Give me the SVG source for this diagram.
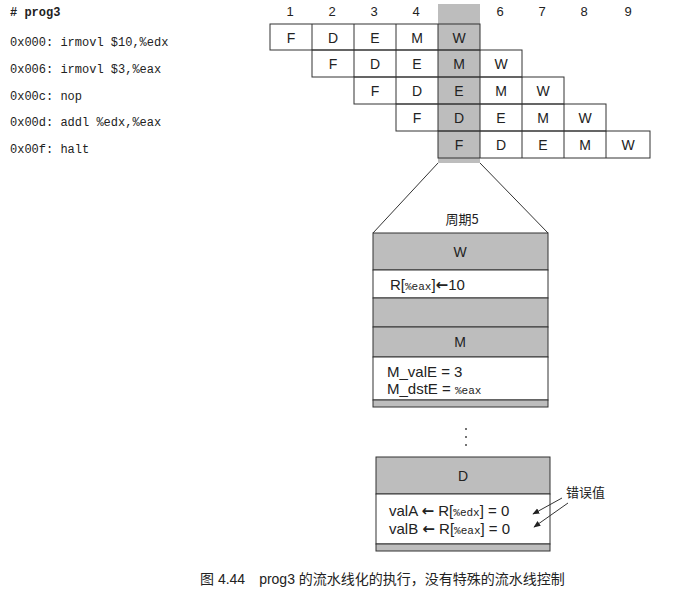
<svg xmlns="http://www.w3.org/2000/svg" width="679" height="605" viewBox="0 0 679 605">
<style>
.code{font-family:"Liberation Mono",monospace;font-size:12px;fill:#222}
.s{font-family:"Liberation Sans",Arial,sans-serif;fill:#222}
.c{stroke:#333;stroke-width:1;fill:#fff}
.g{stroke:#333;stroke-width:1;fill:#bdbdbd}
.l{font-family:"Liberation Sans",Arial,sans-serif;font-size:14px;fill:#222;text-anchor:middle}
.ar{font-family:"DejaVu Sans",sans-serif;font-size:15px;font-weight:bold}
</style>
<defs><marker id="a" viewBox="0 0 10 10" refX="9" refY="5" markerWidth="7" markerHeight="7" orient="auto"><path d="M0,1L10,5L0,9z" fill="#222"/></marker></defs>
<rect width="679" height="605" fill="#fff"/>
<g id="code">
<text class="code" x="10" y="16" font-weight="bold"># prog3</text>
<text class="code" x="10" y="46">0x000: irmovl $10,%edx</text>
<text class="code" x="10" y="73">0x006: irmovl  $3,%eax</text>
<text class="code" x="10" y="100">0x00c: nop</text>
<text class="code" x="10" y="126">0x00d: addl %edx,%eax</text>
<text class="code" x="10" y="153">0x00f: halt</text>
</g>
<g id="cols" class="s" font-size="13" text-anchor="middle">
<text x="290" y="16">1</text><text x="332" y="16">2</text><text x="374" y="16">3</text><text x="416" y="16">4</text><text x="459" y="16">5</text><text x="500" y="16">6</text><text x="542" y="16">7</text><text x="584" y="16">8</text><text x="628" y="16">9</text>
</g>
<g id="grid">
<rect x="438" y="4" width="42" height="159" fill="#bdbdbd"/>
<g fill="none" stroke="#333">
<rect x="270" y="24" width="210" height="26"/><path d="M312 24V50M354 24V50M396 24V50M438 24V50"/>
<rect x="312" y="50" width="210" height="27"/><path d="M354 50V77M396 50V77M438 50V77M480 50V77"/>
<rect x="354" y="77" width="210" height="27"/><path d="M396 77V104M438 77V104M480 77V104M522 77V104"/>
<rect x="396" y="104" width="210" height="27"/><path d="M438 104V131M480 104V131M522 104V131M564 104V131"/>
<rect x="438" y="131" width="212" height="27"/><path d="M480 131V158M522 131V158M564 131V158M606 131V158"/>
</g>
<g class="l">
<text x="291" y="43">F</text><text x="333" y="43">D</text><text x="375" y="43">E</text><text x="417" y="43">M</text><text x="459" y="43">W</text>
<text x="333" y="69">F</text><text x="375" y="69">D</text><text x="417" y="69">E</text><text x="459" y="69">M</text><text x="501" y="69">W</text>
<text x="375" y="96">F</text><text x="417" y="96">D</text><text x="459" y="96">E</text><text x="501" y="96">M</text><text x="543" y="96">W</text>
<text x="417" y="123">F</text><text x="459" y="123">D</text><text x="501" y="123">E</text><text x="543" y="123">M</text><text x="585" y="123">W</text>
<text x="459" y="150">F</text><text x="501" y="150">D</text><text x="543" y="150">E</text><text x="585" y="150">M</text><text x="628" y="150">W</text>
</g>
</g>
<g id="cycle5">
<text x="462" y="224" font-size="13" text-anchor="middle" font-family="Noto Sans CJK SC,sans-serif" fill="#222">周期5</text>
<rect class="g" x="373" y="233" width="175" height="37"/>
<text class="l" x="460" y="257">W</text>
<rect class="c" x="373" y="270" width="175" height="28"/>
<text class="s" x="390" y="290" font-size="15">R[<tspan font-family="Liberation Mono" font-size="11">%eax</tspan>]<tspan class="ar">←</tspan>10</text>
<rect class="g" x="373" y="298" width="175" height="29"/>
<rect class="g" x="373" y="327" width="175" height="30"/>
<text class="l" x="460" y="347">M</text>
<rect class="c" x="373" y="357" width="175" height="43"/>
<text class="s" x="387" y="377" font-size="15">M_valE = 3</text>
<text class="s" x="387" y="394" font-size="15">M_dstE = <tspan font-family="Liberation Mono" font-size="11">%eax</tspan></text>
<rect class="g" x="373" y="400" width="175" height="7"/>
<g fill="#444"><circle cx="466" cy="429" r="1"/><circle cx="466" cy="437" r="1"/><circle cx="466" cy="445" r="1"/></g>
</g>
<g id="decode">
<rect class="g" x="376" y="457" width="174" height="37"/>
<text class="l" x="463" y="481">D</text>
<rect class="c" x="376" y="494" width="174" height="50"/>
<text class="s" x="389" y="516" font-size="15">valA <tspan class="ar">←</tspan> R[<tspan font-family="Liberation Mono" font-size="11">%edx</tspan>] = 0</text>
<text class="s" x="389" y="534" font-size="15">valB <tspan class="ar">←</tspan> R[<tspan font-family="Liberation Mono" font-size="11">%eax</tspan>] = 0</text>
<rect class="g" x="376" y="544" width="174" height="7"/>
</g>
<g id="connectors" fill="none" stroke="#333">
<path d="M438 163L373 233M480 163L548 233"/>
<path d="M562 498L533 514" marker-end="url(#a)"/>
<path d="M568 503L534 527" marker-end="url(#a)"/>
</g>
<g id="label"><text x="566" y="497" font-size="13" font-family="Noto Sans CJK SC,sans-serif" fill="#222">错误值</text></g>
<text x="200" y="584" font-size="14" font-family="Liberation Sans,Noto Sans CJK SC,sans-serif" fill="#222">图 4.44　prog3 的流水线化的执行，没有特殊的流水线控制</text>
</svg>
